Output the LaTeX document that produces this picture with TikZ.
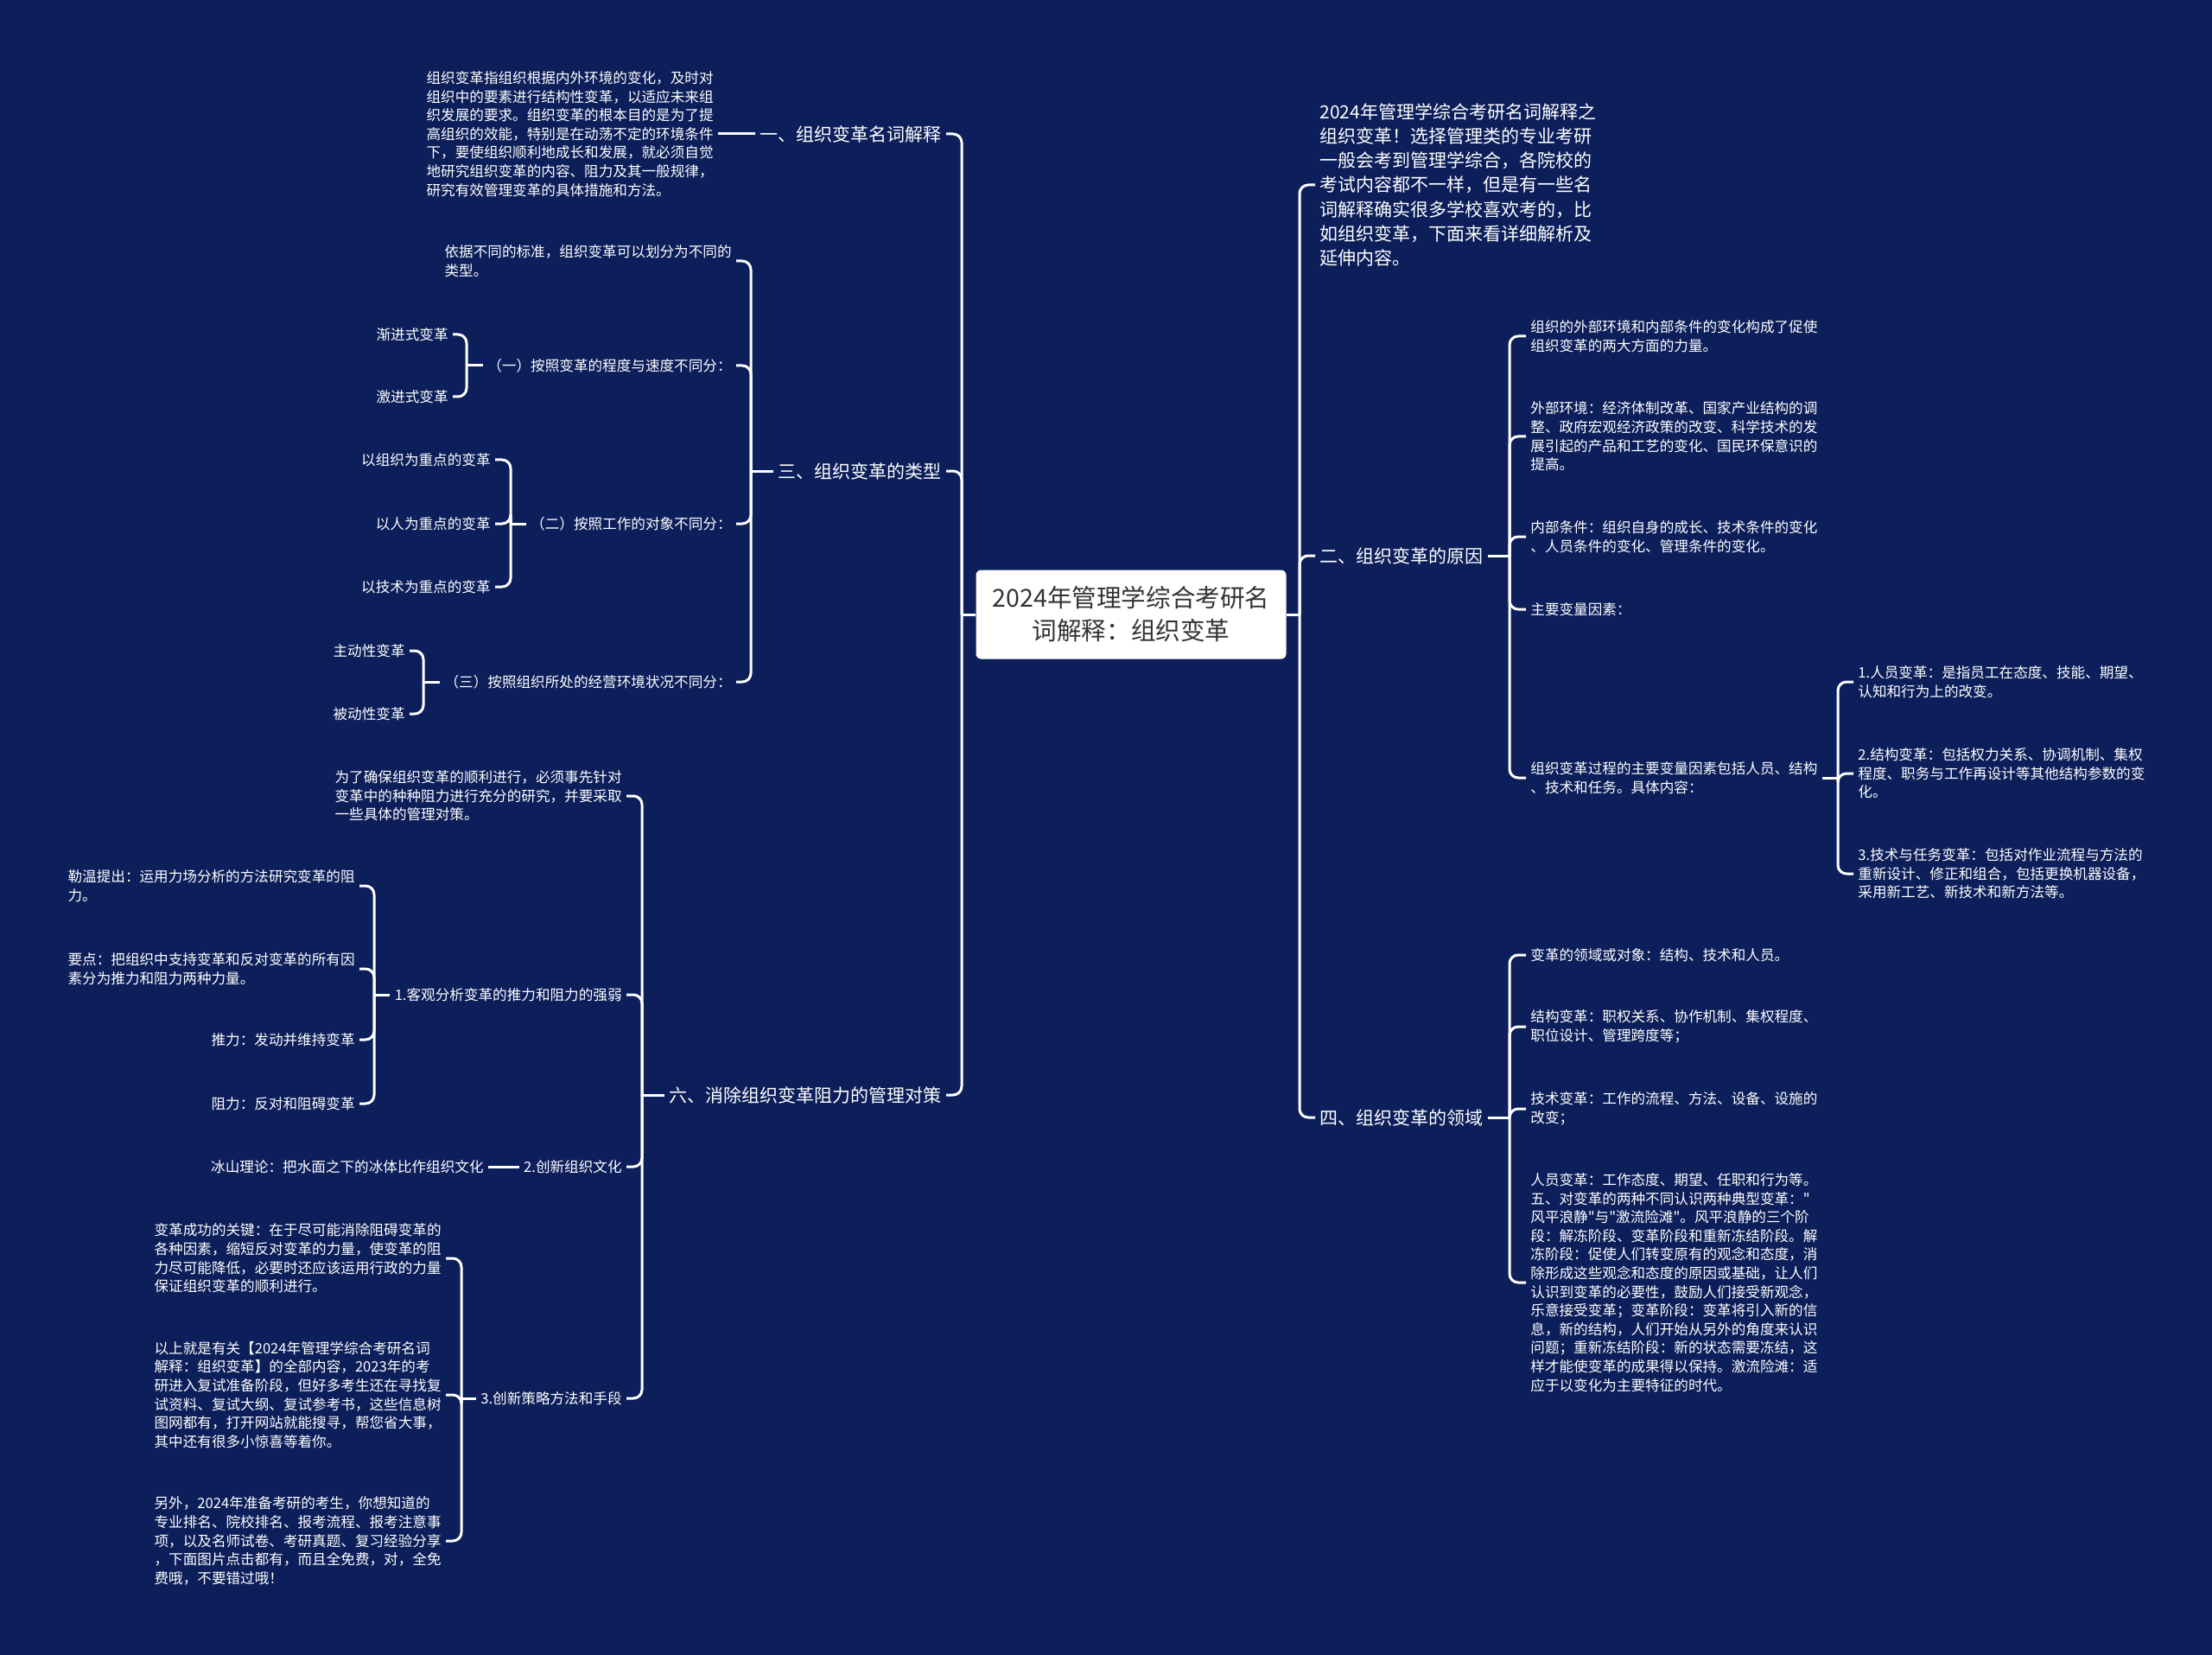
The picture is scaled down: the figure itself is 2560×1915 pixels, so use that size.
\documentclass[tikz,border=0pt]{standalone}
\usepackage{fontspec}
\newfontfamily\cjk{Noto Sans CJK SC}
\definecolor{bg}{HTML}{0C1F5A}
\definecolor{ctext}{HTML}{333333}
\begin{document}
\begin{tikzpicture}[x=0.5pt,y=-0.5pt,
  conn/.style={draw=white, line width=1.5pt, rounded corners=5pt},
  small/.style={text=white, font=\cjk\fontsize{8.3}{10.8}\selectfont, align=left, inner xsep=2.5pt, inner ysep=1pt},
  lvl/.style={text=white, font=\cjk\fontsize{10.5}{14.1}\selectfont, align=left, inner xsep=2.5pt, inner ysep=1pt},
  lft/.style={anchor=east}, rgt/.style={anchor=west}
]
\fill[bg] (0,0) rectangle (2560,1915);
\useasboundingbox (0,0) rectangle (2560,1915);

% center
\node[fill=white, rounded corners=3pt, minimum width=179.5pt, minimum height=51.5pt,
  text=ctext, align=center, font=\cjk\fontsize{14.3}{19}\selectfont] (c) at (1309,711)
  {2024年管理学综合考研名\\词解释：组织变革};

\coordinate (lt) at (1113,711);
\coordinate (rt) at (1504,711);

% level 1 left
\node[lvl,lft] (n1) at (1095,155) {一、组织变革名词解释};
\node[lvl,lft] (n3) at (1095,545) {三、组织变革的类型};
\node[lvl,lft] (n6) at (1095,1267) {六、消除组织变革阻力的管理对策};

% level 1 right
\node[lvl,rgt] (intro) at (1522,214) {2024年管理学综合考研名词解释之\\组织变革！选择管理类的专业考研\\一般会考到管理学综合，各院校的\\考试内容都不一样，但是有一些名\\词解释确实很多学校喜欢考的，比\\如组织变革，下面来看详细解析及\\延伸内容。};
\node[lvl,rgt] (n2) at (1522,643) {二、组织变革的原因};
\node[lvl,rgt] (n4) at (1522,1293) {四、组织变革的领域};

\draw[conn] (c.west) -- (lt);
\draw[conn] (lt) |- (n1.east);
\draw[conn] (lt) |- (n3.east);
\draw[conn] (lt) |- (n6.east);
\draw[conn] (c.east) -- (rt);
\draw[conn] (rt) |- (intro.west);
\draw[conn] (rt) |- (n2.west);
\draw[conn] (rt) |- (n4.west);

% subtree 一
\node[small,lft] (p1) at (831,155) {组织变革指组织根据内外环境的变化，及时对\\组织中的要素进行结构性变革，以适应未来组\\织发展的要求。组织变革的根本目的是为了提\\高组织的效能，特别是在动荡不定的环境条件\\下，要使组织顺利地成长和发展，就必须自觉\\地研究组织变革的内容、阻力及其一般规律，\\研究有效管理变革的具体措施和方法。};
\draw[conn] (p1.east) -- (n1.west);

% subtree 三
\coordinate (t3) at (869,545);
\node[small,lft] (t30) at (852,302) {依据不同的标准，组织变革可以划分为不同的\\类型。};
\node[small,lft] (t31) at (852,423) {（一）按照变革的程度与速度不同分：};
\node[small,lft] (t32) at (852,606) {（二）按照工作的对象不同分：};
\node[small,lft] (t33) at (852,789) {（三）按照组织所处的经营环境状况不同分：};
\draw[conn] (n3.west) -- (t3);
\draw[conn] (t3) |- (t30.east);
\draw[conn] (t3) |- (t31.east);
\draw[conn] (t3) |- (t32.east);
\draw[conn] (t3) |- (t33.east);

\coordinate (t31t) at (540,423);
\node[small,lft] (g1) at (524,387) {渐进式变革};
\node[small,lft] (g2) at (524,459) {激进式变革};
\draw[conn] (t31.west) -- (t31t);
\draw[conn] (t31t) |- (g1.east);
\draw[conn] (t31t) |- (g2.east);

\coordinate (t32t) at (591,606);
\node[small,lft] (h1) at (573,532) {以组织为重点的变革};
\node[small,lft] (h2) at (573,606) {以人为重点的变革};
\node[small,lft] (h3) at (573,679) {以技术为重点的变革};
\draw[conn] (t32.west) -- (t32t);
\draw[conn] (t32t) |- (h1.east);
\draw[conn] (t32t) |- (h2.east);
\draw[conn] (t32t) |- (h3.east);

\coordinate (t33t) at (490,789);
\node[small,lft] (k1) at (474,753) {主动性变革};
\node[small,lft] (k2) at (474,826) {被动性变革};
\draw[conn] (t33.west) -- (t33t);
\draw[conn] (t33t) |- (k1.east);
\draw[conn] (t33t) |- (k2.east);

% subtree 六
\coordinate (t6) at (743,1267);
\node[small,lft] (s0) at (725,921) {为了确保组织变革的顺利进行，必须事先针对\\变革中的种种阻力进行充分的研究，并要采取\\一些具体的管理对策。};
\node[small,lft] (s1) at (725,1151) {1.客观分析变革的推力和阻力的强弱};
\node[small,lft] (s2) at (725,1350) {2.创新组织文化};
\node[small,lft] (s3) at (725,1618) {3.创新策略方法和手段};
\draw[conn] (n6.west) -- (t6);
\draw[conn] (t6) |- (s0.east);
\draw[conn] (t6) |- (s1.east);
\draw[conn] (t6) |- (s2.east);
\draw[conn] (t6) |- (s3.east);

\coordinate (t61) at (433,1151);
\node[small,lft] (u1) at (416,1025) {勒温提出：运用力场分析的方法研究变革的阻\\力。};
\node[small,lft] (u2) at (416,1121) {要点：把组织中支持变革和反对变革的所有因\\素分为推力和阻力两种力量。};
\node[small,lft] (u3) at (416,1203) {推力：发动并维持变革};
\node[small,lft] (u4) at (416,1277) {阻力：反对和阻碍变革};
\draw[conn] (s1.west) -- (t61);
\draw[conn] (t61) |- (u1.east);
\draw[conn] (t61) |- (u2.east);
\draw[conn] (t61) |- (u3.east);
\draw[conn] (t61) |- (u4.east);

\node[small,lft] (v1) at (565,1350) {冰山理论：把水面之下的冰体比作组织文化};
\draw[conn] (v1.east) -- (s2.west);

\coordinate (t63) at (534,1618);
\node[small,lft] (w1) at (516,1456) {变革成功的关键：在于尽可能消除阻碍变革的\\各种因素，缩短反对变革的力量，使变革的阻\\力尽可能降低，必要时还应该运用行政的力量\\保证组织变革的顺利进行。};
\node[small,lft] (w2) at (516,1614) {以上就是有关【2024年管理学综合考研名词\\解释：组织变革】的全部内容，2023年的考\\研进入复试准备阶段，但好多考生还在寻找复\\试资料、复试大纲、复试参考书，这些信息树\\图网都有，打开网站就能搜寻，帮您省大事，\\其中还有很多小惊喜等着你。};
\node[small,lft] (w3) at (516,1783) {另外，2024年准备考研的考生，你想知道的\\专业排名、院校排名、报考流程、报考注意事\\项，以及名师试卷、考研真题、复习经验分享\\，下面图片点击都有，而且全免费，对，全免\\费哦，不要错过哦！};
\draw[conn] (s3.west) -- (t63);
\draw[conn] (t63) |- (w1.east);
\draw[conn] (t63) |- (w2.east);
\draw[conn] (t63) |- (w3.east);

% subtree 二
\coordinate (t2) at (1747,643);
\node[small,rgt] (a0) at (1766,389) {组织的外部环境和内部条件的变化构成了促使\\组织变革的两大方面的力量。};
\node[small,rgt] (a1) at (1766,505) {外部环境：经济体制改革、国家产业结构的调\\整、政府宏观经济政策的改变、科学技术的发\\展引起的产品和工艺的变化、国民环保意识的\\提高。};
\node[small,rgt] (a2) at (1766,621) {内部条件：组织自身的成长、技术条件的变化\\、人员条件的变化、管理条件的变化。};
\node[small,rgt] (a3) at (1766,705) {主要变量因素：};
\node[small,rgt] (a4) at (1766,900) {组织变革过程的主要变量因素包括人员、结构\\、技术和任务。具体内容：};
\draw[conn] (n2.east) -- (t2);
\draw[conn] (t2) |- (a0.west);
\draw[conn] (t2) |- (a1.west);
\draw[conn] (t2) |- (a2.west);
\draw[conn] (t2) |- (a3.west);
\draw[conn] (t2) |- (a4.west);

\coordinate (t24) at (2127,900);
\node[small,rgt] (b1) at (2145,789) {1.人员变革：是指员工在态度、技能、期望、\\认知和行为上的改变。};
\node[small,rgt] (b2) at (2145,895) {2.结构变革：包括权力关系、协调机制、集权\\程度、职务与工作再设计等其他结构参数的变\\化。};
\node[small,rgt] (b3) at (2145,1011) {3.技术与任务变革：包括对作业流程与方法的\\重新设计、修正和组合，包括更换机器设备，\\采用新工艺、新技术和新方法等。};
\draw[conn] (a4.east) -- (t24);
\draw[conn] (t24) |- (b1.west);
\draw[conn] (t24) |- (b2.west);
\draw[conn] (t24) |- (b3.west);

% subtree 四
\coordinate (t4) at (1747,1293);
\node[small,rgt] (d0) at (1766,1105) {变革的领域或对象：结构、技术和人员。};
\node[small,rgt] (d1) at (1766,1188) {结构变革：职权关系、协作机制、集权程度、\\职位设计、管理跨度等；};
\node[small,rgt] (d2) at (1766,1283) {技术变革：工作的流程、方法、设备、设施的\\改变；};
\node[small,rgt] (d3) at (1766,1484) {人员变革：工作态度、期望、任职和行为等。\\五、对变革的两种不同认识两种典型变革："\\风平浪静"与"激流险滩"。风平浪静的三个阶\\段：解冻阶段、变革阶段和重新冻结阶段。解\\冻阶段：促使人们转变原有的观念和态度，消\\除形成这些观念和态度的原因或基础，让人们\\认识到变革的必要性，鼓励人们接受新观念，\\乐意接受变革；变革阶段：变革将引入新的信\\息，新的结构，人们开始从另外的角度来认识\\问题；重新冻结阶段：新的状态需要冻结，这\\样才能使变革的成果得以保持。激流险滩：适\\应于以变化为主要特征的时代。};
\draw[conn] (n4.east) -- (t4);
\draw[conn] (t4) |- (d0.west);
\draw[conn] (t4) |- (d1.west);
\draw[conn] (t4) |- (d2.west);
\draw[conn] (t4) |- (d3.west);
\end{tikzpicture}
\end{document}
